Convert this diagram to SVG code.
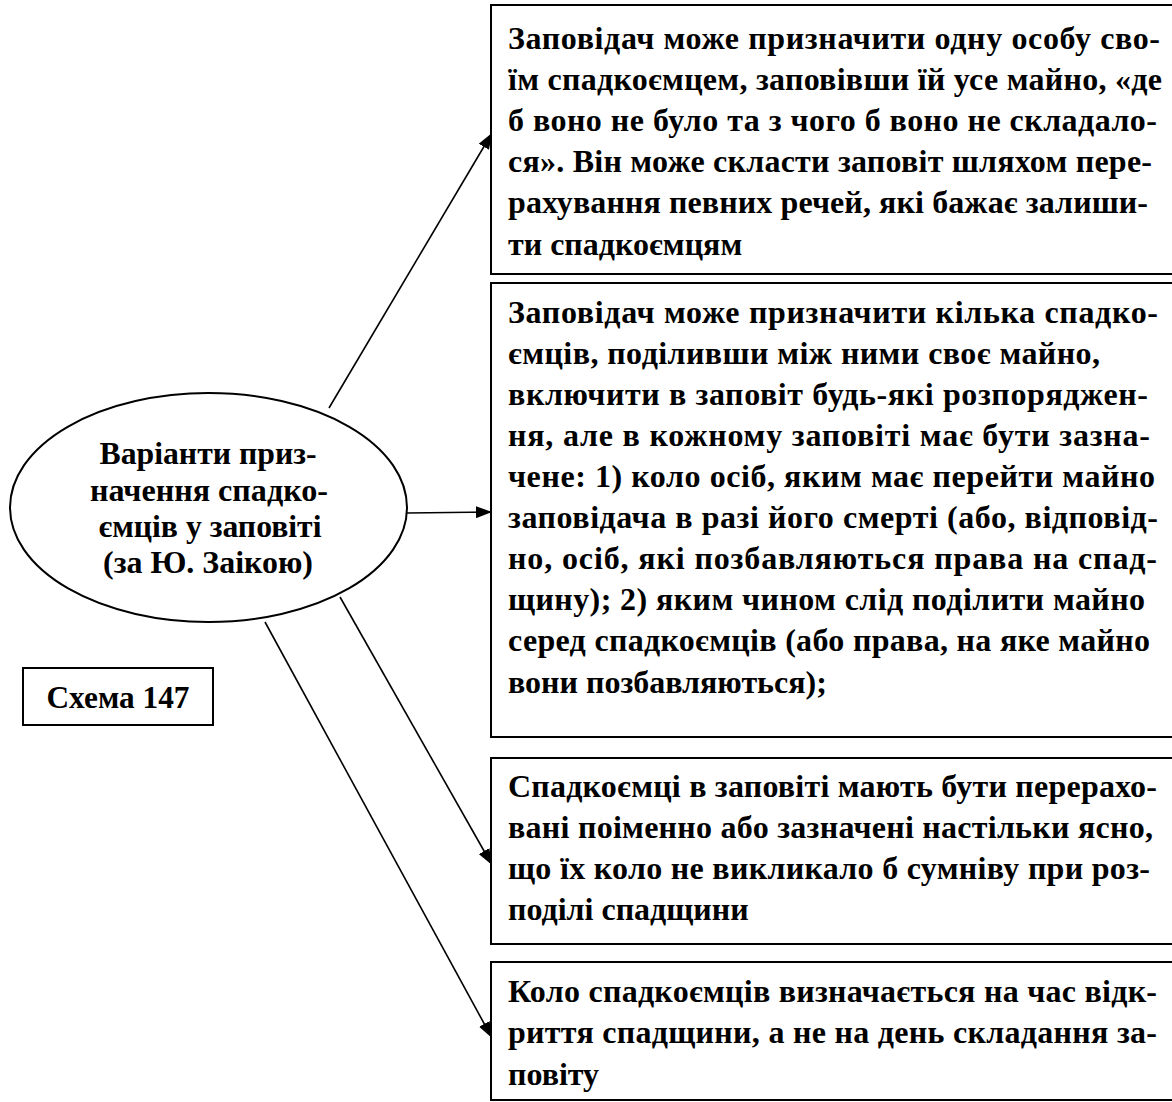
<svg xmlns="http://www.w3.org/2000/svg" width="1172" height="1102" viewBox="0 0 1172 1102">
<defs>
<marker id="arr" viewBox="0 0 16 12" refX="16" refY="6" markerWidth="16" markerHeight="12" markerUnits="userSpaceOnUse" orient="auto">
<path d="M0,0 L16,6 L0,12 Z" fill="#000"/>
</marker>
<style>
.box{fill:#fff;stroke:#000;stroke-width:2}
.t{font-family:"Liberation Serif","Times New Roman",serif;font-weight:bold;font-size:32px;fill:#000}
.e{font-family:"Liberation Serif","Times New Roman",serif;font-weight:bold;font-size:31px;fill:#000;text-anchor:middle}
.c{stroke:#000;stroke-width:1.6;fill:none;marker-end:url(#arr)}
</style>
</defs>
<rect width="1172" height="1102" fill="#fff"/>
<g id="connectors">
<line class="c" x1="329" y1="408" x2="492" y2="133"/>
<line class="c" x1="407" y1="513" x2="492" y2="512"/>
<line class="c" x1="340" y1="597" x2="492" y2="865"/>
<line class="c" x1="265" y1="622" x2="492" y2="1038"/>
</g>
<g id="center">
<ellipse cx="208.5" cy="507.5" rx="198.5" ry="114.5" fill="#fff" stroke="#000" stroke-width="2"/>
<text class="e" x="208" y="464" textLength="217" lengthAdjust="spacingAndGlyphs">Варіанти приз-</text>
<text class="e" x="209" y="501" textLength="238" lengthAdjust="spacingAndGlyphs">начення спадко-</text>
<text class="e" x="210" y="537" textLength="223" lengthAdjust="spacingAndGlyphs">ємців у заповіті</text>
<text class="e" x="208" y="573" textLength="210" lengthAdjust="spacingAndGlyphs">(за Ю. Заікою)</text>
</g>
<g id="scheme">
<rect x="23" y="668" width="190" height="57" fill="#fff" stroke="#000" stroke-width="2"/>
<text class="e" x="118" y="708" style="font-size:32px" textLength="143" lengthAdjust="spacingAndGlyphs">Схема 147</text>
</g>
<g id="box1">
<rect class="box" x="491" y="5" width="700" height="269"/>
<text class="t" x="508" y="49" textLength="652" lengthAdjust="spacing">Заповідач може призначити одну особу сво-</text>
<text class="t" x="508" y="90" textLength="654" lengthAdjust="spacing">їм спадкоємцем, заповівши їй усе майно, «де</text>
<text class="t" x="508" y="131" textLength="649" lengthAdjust="spacing">б воно не було та з чого б воно не складало-</text>
<text class="t" x="508" y="172" textLength="644" lengthAdjust="spacing">ся». Він може скласти заповіт шляхом пере-</text>
<text class="t" x="508" y="213" textLength="640" lengthAdjust="spacing">рахування певних речей, які бажає залиши-</text>
<text class="t" x="508" y="255">ти спадкоємцям</text>
</g>
<g id="box2">
<rect class="box" x="491" y="283" width="700" height="454"/>
<text class="t" x="508" y="323" textLength="650" lengthAdjust="spacing">Заповідач може призначити кілька спадко-</text>
<text class="t" x="508" y="364" textLength="592" lengthAdjust="spacing">ємців, поділивши між ними своє майно,</text>
<text class="t" x="508" y="405" textLength="640" lengthAdjust="spacing">включити в заповіт будь-які розпоряджен-</text>
<text class="t" x="508" y="446" textLength="642" lengthAdjust="spacing">ня, але в кожному заповіті має бути зазна-</text>
<text class="t" x="508" y="487" textLength="647" lengthAdjust="spacing">чене: 1) коло осіб, яким має перейти майно</text>
<text class="t" x="508" y="528" textLength="650" lengthAdjust="spacing">заповідача в разі його смерті (або, відповід-</text>
<text class="t" x="508" y="569" textLength="649" lengthAdjust="spacing">но, осіб, які позбавляються права на спад-</text>
<text class="t" x="508" y="610" textLength="637" lengthAdjust="spacing">щину); 2) яким чином слід поділити майно</text>
<text class="t" x="508" y="651" textLength="642" lengthAdjust="spacing">серед спадкоємців (або права, на яке майно</text>
<text class="t" x="508" y="693">вони позбавляються);</text>
</g>
<g id="box3">
<rect class="box" x="491" y="758" width="700" height="186"/>
<text class="t" x="508" y="797" textLength="649" lengthAdjust="spacing">Спадкоємці в заповіті мають бути перерахо-</text>
<text class="t" x="508" y="838" textLength="645" lengthAdjust="spacing">вані поіменно або зазначені настільки ясно,</text>
<text class="t" x="508" y="879" textLength="642" lengthAdjust="spacing">що їх коло не викликало б сумніву при роз-</text>
<text class="t" x="508" y="920">поділі спадщини</text>
</g>
<g id="box4">
<rect class="box" x="491" y="962" width="700" height="138"/>
<text class="t" x="508" y="1002" textLength="649" lengthAdjust="spacing">Коло спадкоємців визначається на час відк-</text>
<text class="t" x="508" y="1043" textLength="649" lengthAdjust="spacing">риття спадщини, а не на день складання за-</text>
<text class="t" x="508" y="1085">повіту</text>
</g>
</svg>
